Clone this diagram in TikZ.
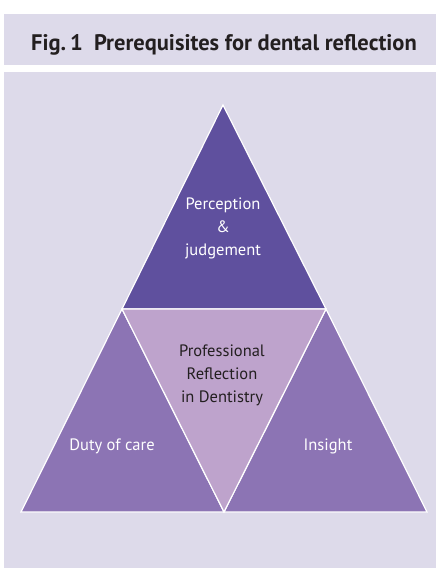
\documentclass[tikz,border=0pt]{standalone}
\usepackage{fontspec}
\setmainfont{PT Sans}
\definecolor{panelbg}{RGB}{221,218,234}
\definecolor{topviolet}{RGB}{95,80,158}
\definecolor{sideviolet}{RGB}{140,116,180}
\definecolor{midviolet}{RGB}{190,163,204}
\definecolor{titlegrey}{RGB}{35,31,32}
\tikzset{
  facet/.style={draw=white, line width=1.2bp, line join=miter},
  label/.style={align=center, font=\fontsize{16.5bp}{23bp}\selectfont, inner sep=0pt},
}
\begin{document}
\begin{tikzpicture}[x=1bp,y=-1bp]
\useasboundingbox (0,0) rectangle (436,569);
\fill[panelbg] (4,14) rectangle (436,65);
\fill[panelbg] (4,72) rectangle (436,568);
\node[font=\fontsize{22.5bp}{24bp}\selectfont\bfseries, text=titlegrey] (title) at (224,45) {Fig.\,1\enspace Prerequisites for dental reflection};

\coordinate (apex) at (223,105);
\coordinate (midleft) at (122,309);
\coordinate (midright) at (326,309);
\coordinate (baseleft) at (21,512);
\coordinate (basemid) at (224,512);
\coordinate (baseright) at (427,512);

\filldraw[facet, fill=topviolet] (apex) -- (midright) -- (midleft) -- cycle;
\filldraw[facet, fill=sideviolet] (midleft) -- (basemid) -- (baseleft) -- cycle;
\filldraw[facet, fill=sideviolet] (midright) -- (baseright) -- (basemid) -- cycle;
\filldraw[facet, fill=midviolet] (midleft) -- (midright) -- (basemid) -- cycle;

\node[label, text=white] (perception) at (223,228) {Perception\\\&\\judgement};
\node[label, text=titlegrey] (professional) at (222,375) {Professional\\Reflection\\in Dentistry};
\node[label, text=white] (duty) at (112,446) {Duty of care};
\node[label, text=white] (insight) at (328,446) {Insight};
\end{tikzpicture}
\end{document}
